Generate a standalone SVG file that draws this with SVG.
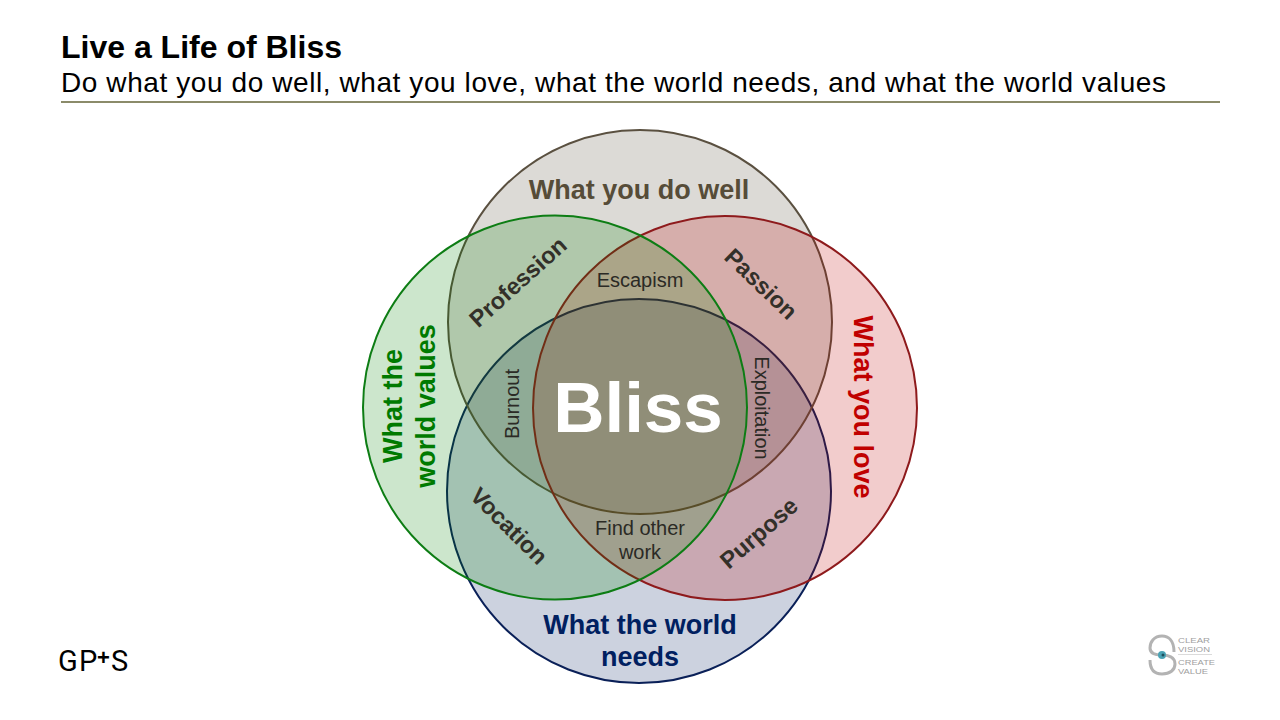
<svg xmlns="http://www.w3.org/2000/svg" width="1280" height="720" viewBox="0 0 1280 720">
<style>
text{font-family:"Liberation Sans",Arial,sans-serif;text-anchor:middle}
.c{stroke-width:2}
.b{font-weight:bold;font-size:27px}
.m{font-weight:bold;font-size:23.500px;fill:#333029}
.s{font-size:20px;fill:#2b2a25}
.t{text-anchor:start;fill:#000}
.lg{text-anchor:start;font-size:7.800px;fill:#a0a0a0}
</style>
<rect width="1280" height="720" fill="#fff"/>
<g id="title">
<text class="t" x="61" y="57.500" font-size="32" font-weight="bold">Live a Life of Bliss</text>
<text class="t" x="61" y="92" font-size="28" textLength="1105" lengthAdjust="spacing">Do what you do well, what you love, what the world needs, and what the world values</text>
</g>
<g id="connectors"><line x1="61" y1="102" x2="1220" y2="102" stroke="#8b8b6a" stroke-width="2"/></g>
<g id="node-needs"><circle class="c" cx="639" cy="491" r="192" fill="#002060" fill-opacity=".2" stroke="#0a2058"/></g>
<g id="node-well"><circle class="c" cx="640" cy="322" r="192" fill="#4f4530" fill-opacity=".2" stroke="#5a5040"/></g>
<g id="node-love"><circle class="c" cx="725" cy="408" r="192" fill="#c00000" fill-opacity=".2" stroke="#8e1a1c"/></g>
<g id="node-values"><circle class="c" cx="555" cy="407.500" r="192" fill="#008000" fill-opacity=".2" stroke="#0d7d14"/></g>
<g id="labels">
<text class="b" x="639" y="199" fill="#564c38">What you do well</text>
<text class="b" x="640" y="634" fill="#002060">What the world</text>
<text class="b" x="640" y="666" fill="#002060">needs</text>
<text class="b" transform="translate(854,407) rotate(90)" x="0" y="0" fill="#c00000">What you love</text>
<text class="b" transform="translate(402,406) rotate(-90)" x="0" y="0" fill="#007a00">What the</text>
<text class="b" transform="translate(435,406) rotate(-90)" x="0" y="0" fill="#007a00">world values</text>
<text class="m" transform="translate(518,282) rotate(-42)" x="0" y="8">Profession</text>
<text class="m" transform="translate(761,284) rotate(44)" x="0" y="8">Passion</text>
<text class="m" transform="translate(509,526) rotate(45)" x="0" y="8">Vocation</text>
<text class="m" transform="translate(759,533) rotate(-41)" x="0" y="8">Purpose</text>
<text class="s" x="640" y="287">Escapism</text>
<text class="s" x="640" y="535">Find other</text>
<text class="s" x="640" y="559">work</text>
<text class="s" transform="translate(519,404) rotate(-90)" x="0" y="0">Burnout</text>
<text class="s" transform="translate(755,408) rotate(90)" x="0" y="0">Exploitation</text>
<text x="638" y="432" font-size="71" font-weight="bold" fill="#fff">Bliss</text>
</g>
<g id="logo-gps">
<text class="t" style="font-family:Roboto,sans-serif" x="58" y="670.500" font-size="29" fill="#4a3a28">G</text>
<text class="t" style="font-family:Roboto,sans-serif" x="79" y="670.500" font-size="29" fill="#4a3a28">P</text>
<text class="t" x="97" y="665" font-size="22" font-weight="bold" fill="#b02a30">+</text>
<text class="t" style="font-family:Roboto,sans-serif" x="111" y="670.500" font-size="29" fill="#4a3a28">S</text>
</g>
<g id="logo-cv">
<path d="M1174 652C1174 640 1168 636 1162 636C1154 636 1150 642 1150 648C1150 654 1156 655 1162 655C1168 655 1175 657 1175 664C1175 670 1170 674 1162 674C1155 674 1150 670 1150 660" fill="none" stroke="#b3b3b3" stroke-width="3"/>
<circle cx="1162" cy="655" r="4" fill="#4aa3b5"/>
<circle cx="1163" cy="655" r="1.500" fill="#1f4f5c"/>
<text class="lg" x="1178" y="643" textLength="32" lengthAdjust="spacingAndGlyphs">CLEAR</text>
<text class="lg" x="1178" y="652" textLength="32" lengthAdjust="spacingAndGlyphs">VISION</text>
<line x1="1178" y1="654.500" x2="1212" y2="654.500" stroke="#ccc" stroke-width=".7"/>
<text class="lg" x="1178" y="664.500" textLength="37" lengthAdjust="spacingAndGlyphs">CREATE</text>
<text class="lg" x="1178" y="673.500" textLength="30" lengthAdjust="spacingAndGlyphs">VALUE</text>
</g>
</svg>
